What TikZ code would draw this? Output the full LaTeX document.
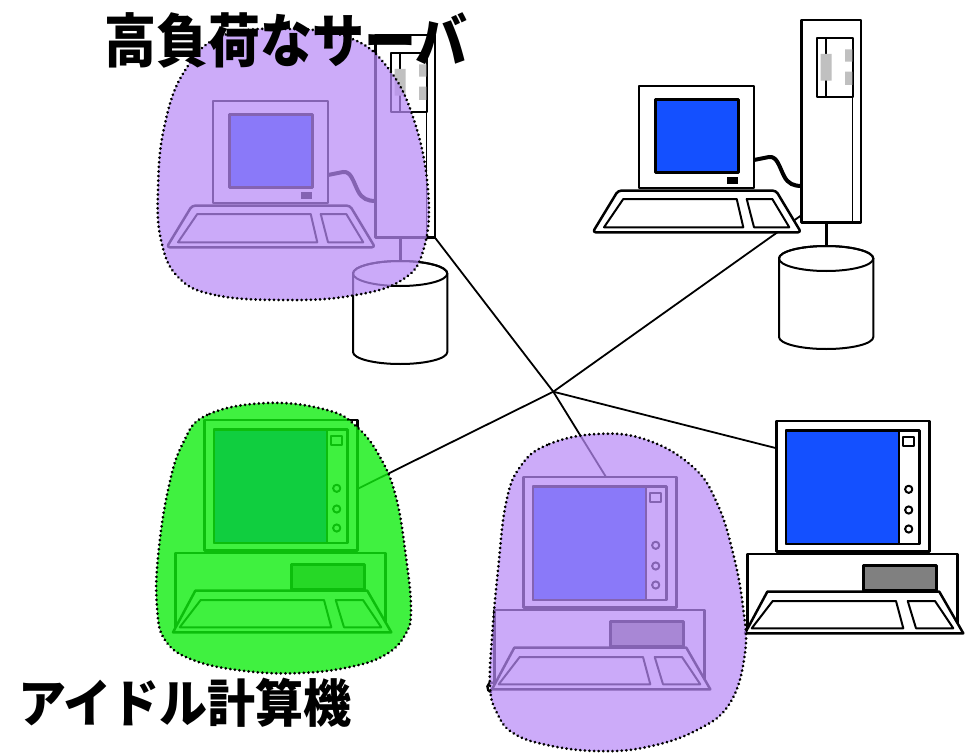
\documentclass[tikz,border=0pt]{standalone}
\usepackage{fontspec}
\usetikzlibrary{decorations.markings}
\newfontfamily\jpfont{Noto Sans CJK JP}
\definecolor{screenblue}{HTML}{1450FF}
\definecolor{drivegray}{HTML}{808080}
\definecolor{baygray}{HTML}{C0C0C0}
\definecolor{blobpurple}{HTML}{B88AF7}
\definecolor{blobgreen}{HTML}{10EE10}
\pgfdeclarelayer{background}
\pgfsetlayers{background,main}
\tikzset{
  outline/.style={draw=black,line width=2.5pt,line join=round},
  thin outline/.style={draw=black,line width=2pt,line join=round},
  net/.style={draw=black,line width=1.8pt},
  dotted rim/.style={draw=black,line width=3pt,line cap=round,dash pattern=on 0.01pt off 4.6pt},
  purpleblob/.style={fill=blobpurple,fill opacity=0.72},
  greenblob/.style={fill=blobgreen,fill opacity=0.8},
  label/.style={anchor=base west,inner sep=0pt},
  % workstation: monitor, keyboard, tower and disk
  workstation/.pic={
    \draw[outline,fill=white] (639,86) rectangle (754,188);
    \draw[outline,fill=screenblue] (655.3,99.7) rectangle (738.3,172.3);
    \fill[black] (726.7,177) rectangle (737.7,183.7);
    \draw[line width=4pt] (754,160) -- (769,157)
      .. controls (777,156) and (779,166) .. (784,176)
      .. controls (788,184) and (794,186) .. (801.7,186);
    \draw[outline,fill=white,rounded corners=3pt] (618,190.7) -- (776,190.7) -- (801,232.3) -- (592.7,232.3) -- cycle;
    \draw[thin outline] (623.3,199) -- (736.7,199) -- (743.3,227.3) -- (604,227.3) -- cycle;
    \draw[thin outline] (746.7,199) -- (772.3,199) -- (789.3,227.3) -- (754,227.3) -- cycle;
    \draw[outline,fill=white] (801.7,20) rectangle (861,222.7);
    \draw[thin outline] (816.7,37.7) rectangle (853.3,96.7);
    \draw[thin outline] (826,37.7) -- (826,96.7);
    \draw[line width=1.6pt] (852.5,96.7) -- (852.5,222.7);
    \fill[baygray] (820.7,54) rectangle (831.7,80.7)
                   (845,49.3) rectangle (852.3,61.7)
                   (845,71.7) rectangle (852.3,85);
    \draw[line width=3pt] (826,222.7) -- (826,247);
    \draw[thin outline,fill=white] (779,258.5) -- (779,337)
      arc[start angle=180,end angle=0,x radius=47.15,y radius=12]
      -- (873.3,258.5)
      arc[start angle=0,end angle=-180,x radius=47.15,y radius=12.5] -- cycle;
    \draw[thin outline] (826.15,258.5) ellipse[x radius=47.15,y radius=12.5];
    \coordinate (-corner) at (861,222.7);
    \coordinate (-port) at (801.7,215);
  },
  % desktop: monitor on a base unit with keyboard
  desktop/.pic={
    \draw[outline,fill=white] (776.7,421) rectangle (929.3,551.7);
    \draw[outline,fill=white] (786,430.7) rectangle (919.3,544);
    \draw[outline,fill=screenblue] (786,430.7) rectangle (899,544);
    \draw[thin outline] (903.3,436.7) rectangle (914,445.7);
    \foreach \cy in {489.3,510,529} \draw[thin outline] (908.7,\cy) circle[radius=3.6];
    \draw[outline,fill=white] (747.7,554) rectangle (957.3,630);
    \draw[outline,fill=drivegray] (863.3,565.7) rectangle (936.7,590.7);
    \draw[outline,fill=white] (767.3,591.7) -- (939.3,591.7) -- (963.3,633.3) -- (745,633.3) -- cycle;
    \draw[thin outline] (772.7,601) -- (896,601) -- (903.3,628.3) -- (751.7,628.3) -- cycle;
    \draw[thin outline] (907.7,601) -- (935,601) -- (953.3,628.3) -- (916,628.3) -- cycle;
    \coordinate (-port) at (776.7,448.3);
    \coordinate (-top) at (859,421);
    \coordinate (-side) at (929.3,490);
  }
}
% outlines of the three highlighted regions
\newcommand\regionbusyA{plot[smooth cycle,tension=0.7] coordinates {
  (283,300) (215,295) (178,277) (161,240) (158,190) (164,128) (184,72)
  (222,36) (290,29) (350,38) (388,68) (414,120) (428,190) (424,248)
  (402,280) (350,296)}}
\newcommand\regionidle{plot[smooth cycle,tension=0.7] coordinates {
  (267,403) (207,415) (183,443) (168,490) (158,557) (157,607) (165,640)
  (193,660) (245,671) (300,673) (350,667) (385,655) (405,635) (411,610)
  (406,557) (396,497) (380,457) (357,427) (327,410)}}
\newcommand\regionbusyB{plot[smooth cycle,tension=0.7] coordinates {
  (597,434) (547,445) (520,467) (506,503) (498,570) (492,637) (490,687)
  (497,713) (513,733) (547,745) (597,751) (647,747) (697,730) (730,703)
  (745,653) (743,607) (733,553) (717,503) (693,467) (647,440)}}
\begin{document}
\begin{tikzpicture}[x=1pt,y=-1pt]
\useasboundingbox (0,0) rectangle (965,754);

% machines
\pic (srvA) at (-426,15) {workstation};
\pic (srvB) at (0,0) {workstation};
\pic (pcA) at (0,0) {desktop};
\pic (pcB) at (-253,56) {desktop};
\pic (pcC) at (-572,-1) {desktop};

% network lines meeting at one point
\coordinate (hub) at (553.3,391.7);
\begin{pgfonlayer}{background}
\draw[net] (hub) -- (srvA-corner);
\draw[net] (hub) -- (srvB-port);
\draw[net] (hub) -- (pcA-port);
\draw[net] (hub) -- (pcB-top);
\draw[net] (hub) -- (pcC-side);
\end{pgfonlayer}

% small hook left of the lower middle machine
\draw[line width=2.3pt] (494,683) .. controls (486,680) and (485,692) .. (492,692);

% highlighted regions: translucent fill, then a rim of dots
\path[purpleblob] \regionbusyA;
\path[greenblob] \regionidle;
\path[purpleblob] \regionbusyB;
\path[dotted rim] \regionbusyA;
\path[dotted rim] \regionidle;
\path[dotted rim] \regionbusyB;

% captions
\node[label] (busy) at (104,63)
  {\scalebox{1}[1.12]{\jpfont\bfseries\fontsize{52}{52}\selectfont 高負荷なサーバ}};
\node[label] (idle) at (18,722)
  {\scalebox{1}[1.07]{\jpfont\bfseries\fontsize{48}{48}\selectfont アイドル計算機}};
\end{tikzpicture}
\end{document}
